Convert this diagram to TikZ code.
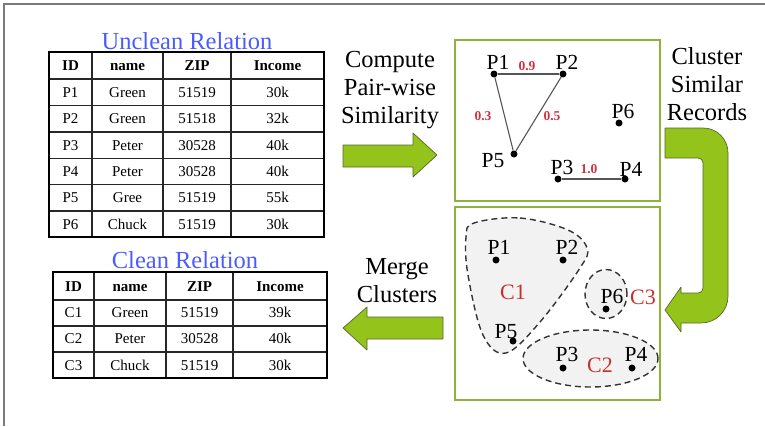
\documentclass[tikz,border=0pt]{standalone}
\usepackage{fontspec}
\setmainfont{Liberation Serif}
\usetikzlibrary{positioning}
\definecolor{titleBlue}{HTML}{4A5CFF}
\definecolor{boxGreen}{HTML}{8CB43C}
\definecolor{arrowFill}{HTML}{94C41C}
\definecolor{arrowDraw}{HTML}{56692A}
\definecolor{weightRed}{HTML}{CC3344}
\definecolor{clusterRed}{HTML}{C8302E}
\definecolor{edgeGray}{HTML}{555555}
\definecolor{frameGray}{HTML}{7A7A7A}
\definecolor{clusterFill}{HTML}{F2F2F2}

\begin{document}
\begin{tikzpicture}[
  x=1pt, y=-1pt,
  title/.style={text=titleBlue, font=\fontsize{24.5}{26}\selectfont, inner sep=0pt, anchor=base},
  cell/.style={font=\fontsize{15}{17}\selectfont, inner sep=0pt, anchor=base},
  headcell/.style={inner sep=0pt, anchor=base, font=\fontsize{15}{17}\selectfont\bfseries},
  tblouter/.style={draw=black, line width=2.2pt},
  tblinner/.style={draw=black!85, line width=1.2pt},
  steptext/.style={font=\fontsize{24.5}{28}\selectfont, align=center, inner sep=0pt},
  panel/.style={draw=boxGreen, line width=1.8pt},
  blockarrow/.style={fill=arrowFill, draw=arrowDraw, line width=0.7pt, line join=round},
  pt/.style={circle, fill=black, inner sep=0pt, minimum size=7pt},
  plabel/.style={font=\fontsize{21.5}{23}\selectfont, inner sep=0pt},
  weight/.style={font=\fontsize{13.5}{15}\selectfont\bfseries, text=weightRed, inner sep=0pt},
  edge/.style={draw=edgeGray, line width=1.1pt},
  cluster/.style={draw=black!80, dashed, dash pattern=on 6pt off 4pt, line width=1.4pt, fill=clusterFill},
  clabel/.style={font=\fontsize{22}{24}\selectfont, text=clusterRed, inner sep=0pt},
]
\useasboundingbox (0,0) rectangle (765,426);

% ---- Marco ----
\draw[frameGray, line width=1.4pt] (765,4) -- (4,4) -- (4,426);

% ---- Tabla sucia ----
\node[title] (unclean) at (187,49.5) {Unclean Relation};
\foreach \h/\cx [count=\j] in {ID/70.5, name/127.5, ZIP/197, Income/277.5}
  \node[headcell] (uh\j) at (\cx,70.8) {\h};
\foreach \id/\nm/\zip/\inc [count=\i, evaluate=\i as \ry using 70.8+26.4*\i] in
  {P1/Green/51519/30k, P2/Green/51518/32k, P3/Peter/30528/40k,
   P4/Peter/30528/40k, P5/Gree/51519/55k, P6/Chuck/51519/30k} {
  \node[cell] (u\i-id)  at (70.5,\ry)  {\id};
  \node[cell] (u\i-nm)  at (127.5,\ry) {\nm};
  \node[cell] (u\i-zip) at (197,\ry)   {\zip};
  \node[cell] (u\i-inc) at (277.5,\ry) {\inc};
}
\foreach \y in {79,105.5,132,158.5,184.5,211}
  \draw[tblinner] (49,\y) -- (324,\y);
\foreach \x in {92,163,231}
  \draw[tblinner] (\x,52) -- (\x,237);
\draw[tblouter] (49,52) rectangle (324,237);

% ---- Tabla limpia ----
\node[title] (clean) at (185,268) {Clean Relation};
\foreach \h/\cx [count=\j] in {ID/73.5, name/130, ZIP/199.5, Income/280}
  \node[headcell] (ch\j) at (\cx,291.3) {\h};
\foreach \id/\nm/\zip/\inc [count=\i, evaluate=\i as \ry using 291.3+26.3*\i] in
  {C1/Green/51519/39k, C2/Peter/30528/40k, C3/Chuck/51519/30k} {
  \node[cell] (c\i-id)  at (73.5,\ry)  {\id};
  \node[cell] (c\i-nm)  at (130,\ry)   {\nm};
  \node[cell] (c\i-zip) at (199.5,\ry) {\zip};
  \node[cell] (c\i-inc) at (280,\ry)   {\inc};
}
\foreach \y in {300,326,352}
  \draw[tblinner] (53,\y) -- (327,\y);
\foreach \x in {94,166,233}
  \draw[tblinner] (\x,272) -- (\x,378);
\draw[tblouter] (53,272) rectangle (327,378);

% ---- Pasos ----
\node[steptext] (compute) at (390,90) {Compute\\Pair-wise\\Similarity};
\node[steptext] (clusterstep) at (707,84) {Cluster\\Similar\\Records};
\node[steptext] (merge) at (397,281) {Merge\\Clusters};

% ---- Flechas de bloque ----
\draw[blockarrow] (343,145) -- (413,145) -- (413,133) -- (437,155) -- (413,177)
  -- (413,167) -- (343,167) -- cycle;
\draw[blockarrow] (443,317) -- (367,317) -- (367,307) -- (343,328) -- (367,350)
  -- (367,339) -- (443,339) -- cycle;
\draw[blockarrow] (665,128) -- (703,128) .. controls (717,128) and (728,139) .. (728,153)
  -- (728,296) .. controls (728,311) and (716,323) .. (701,323)
  -- (681,323) -- (681,332) -- (665,310) -- (681,287) -- (681,293)
  -- (698,293) .. controls (701,293) and (703,291) .. (703,288)
  -- (703,163) .. controls (703,160) and (701,158) .. (698,158)
  -- (665,158) -- cycle;

% ---- Panel de similitud ----
\draw[panel] (455,40) rectangle (660,201);
\node[pt] (a1) at (494,74) {};
\node[pt] (a2) at (563,74) {};
\node[pt] (a5) at (514,154) {};
\node[pt] (a6) at (619,123) {};
\node[pt] (a3) at (558,179) {};
\node[pt] (a4) at (625,179) {};
\draw[edge] (a1) -- (a2);
\draw[edge] (a1) -- (a5);
\draw[edge] (a2) -- (a5);
\draw[edge] (a3) -- (a4);
\node[plabel] (a1-lbl) at (498,62) {P1};
\node[plabel] (a2-lbl) at (567,62) {P2};
\node[plabel] (a5-lbl) at (493,161) {P5};
\node[plabel] (a6-lbl) at (623,111) {P6};
\node[plabel] (a3-lbl) at (562,167) {P3};
\node[plabel] (a4-lbl) at (631,169) {P4};
\node[weight] (w12) at (527,66) {0.9};
\node[weight] (w15) at (483,116) {0.3};
\node[weight] (w25) at (552,116) {0.5};
\node[weight] (w34) at (589,169) {1.0};

% ---- Panel de clusters ----
\draw[panel] (455,207) rectangle (660,400);
\draw[cluster] plot[smooth cycle, tension=0.6] coordinates
  {(474,223) (520,218) (568,230) (587,248) (580,268) (540,322) (506,353) (483,335) (468,275) (466,237)};
\draw[cluster] (606,294) ellipse [x radius=21pt, y radius=24.5pt];
\draw[cluster] (590.5,358.5) ellipse [x radius=67.5pt, y radius=28.5pt];
\node[pt] (b1) at (496,260) {};
\node[pt] (b2) at (563,260) {};
\node[pt] (b5) at (513,341) {};
\node[pt] (b6) at (606,309) {};
\node[pt] (b3) at (563,368) {};
\node[pt] (b4) at (632,368) {};
\node[plabel] (b1-lbl) at (499,247) {P1};
\node[plabel] (b2-lbl) at (567,247) {P2};
\node[plabel] (b5-lbl) at (506,332) {P5};
\node[plabel] (b6-lbl) at (612,296) {P6};
\node[plabel] (b3-lbl) at (567,354) {P3};
\node[plabel] (b4-lbl) at (636,354) {P4};
\node[clabel] (c1-lbl) at (513,292) {C1};
\node[clabel] (c2-lbl) at (600,365) {C2};
\node[clabel] (c3-lbl) at (643,297) {C3};

\end{tikzpicture}
\end{document}
